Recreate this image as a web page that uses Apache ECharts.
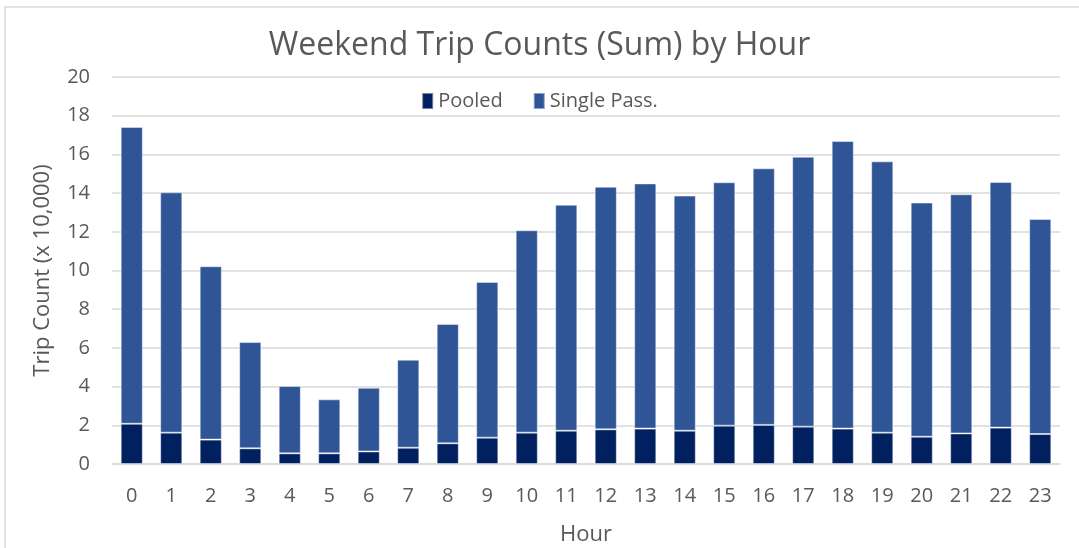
<!DOCTYPE html>
<html>
<head>
<meta charset="utf-8">
<title>Weekend Trip Counts</title>
<script src="https://cdn.jsdelivr.net/npm/echarts@6/dist/echarts.min.js"></script>
<style>
  html, body { margin: 0; padding: 0; background: #fff; }
  #main { width: 1079px; height: 548px; }
</style>
</head>
<body>
<div id="main"></div>
<script>
// hours 0..23
var hours = ["0","1","2","3","4","5","6","7","8","9","10","11","12","13","14","15","16","17","18","19","20","21","22","23"];
// trip counts in units of 10,000
var pooled = [2.08, 1.62, 1.26, 0.81, 0.55, 0.55, 0.65, 0.84, 1.07, 1.36, 1.62, 1.72, 1.79, 1.83, 1.72, 1.98, 2.02, 1.93, 1.83, 1.62, 1.41, 1.58, 1.88, 1.55];
var totals = [17.42, 14.04, 10.22, 6.30, 4.03, 3.34, 3.94, 5.39, 7.24, 9.41, 12.08, 13.40, 14.33, 14.50, 13.87, 14.56, 15.28, 15.88, 16.69, 15.64, 13.51, 13.94, 14.57, 12.66];
var singlePass = totals.map(function (t, i) { return +(t - pooled[i]).toFixed(2); });
var yTicks = [0, 20, 2]; // min, max, interval

var chart = echarts.init(document.getElementById("main"));
var font = "Open Sans";
var option = {
  animation: false,
  textStyle: { fontFamily: font },
  graphic: [
    {
      type: "rect",
      shape: { x: 5, y: 7, width: 1200, height: 700 },
      style: { fill: "none", stroke: "#d9d9d9", lineWidth: 1.5 },
      silent: true
    }
  ],
  title: {
    text: "Weekend Trip Counts (Sum) by Hour",
    left: "center",
    top: 25,
    textStyle: { color: "#595959", fontSize: 32, fontWeight: "normal", fontFamily: font }
  },
  color: ["#002060", "#2f5597"],
  legend: {
    top: 86,
    left: "center",
    itemWidth: 11,
    itemHeight: 16,
    itemGap: 30,
    icon: "rect",
    data: ["Pooled", "Single Pass."],
    textStyle: { color: "#595959", fontSize: 20 }
  },
  grid: { left: 112, right: 19, top: 77, bottom: 84, outerBoundsMode: "none", containLabel: false },
  xAxis: {
    type: "category",
    data: hours,
    name: "Hour",
    nameLocation: "middle",
    nameGap: 60,
    nameTextStyle: { color: "#595959", fontSize: 22 },
    axisLine: { lineStyle: { color: "#d9d9d9", width: 1.5 } },
    axisTick: { show: false },
    axisLabel: { color: "#595959", fontSize: 20, margin: 22 }
  },
  yAxis: {
    type: "value",
    min: yTicks[0],
    max: yTicks[1],
    interval: yTicks[2],
    name: "Trip Count (x 10,000)",
    nameLocation: "middle",
    nameGap: 58,
    nameTextStyle: { color: "#595959", fontSize: 22 },
    axisLine: { show: false },
    axisTick: { show: false },
    axisLabel: { color: "#595959", fontSize: 20, margin: 22 },
    splitLine: { lineStyle: { color: "#d9d9d9", width: 1.5 } }
  },
  series: [
    {
      name: "Pooled",
      type: "bar",
      stack: "trips",
      barWidth: "56%",
      data: pooled,
      itemStyle: { borderColor: "rgba(255,255,255,0.45)", borderWidth: 1 }
    },
    {
      name: "Single Pass.",
      type: "bar",
      stack: "trips",
      barWidth: "56%",
      data: singlePass,
      itemStyle: { borderColor: "rgba(255,255,255,0.45)", borderWidth: 1 }
    }
  ]
};
chart.setOption(option);
</script>
</body>
</html>
